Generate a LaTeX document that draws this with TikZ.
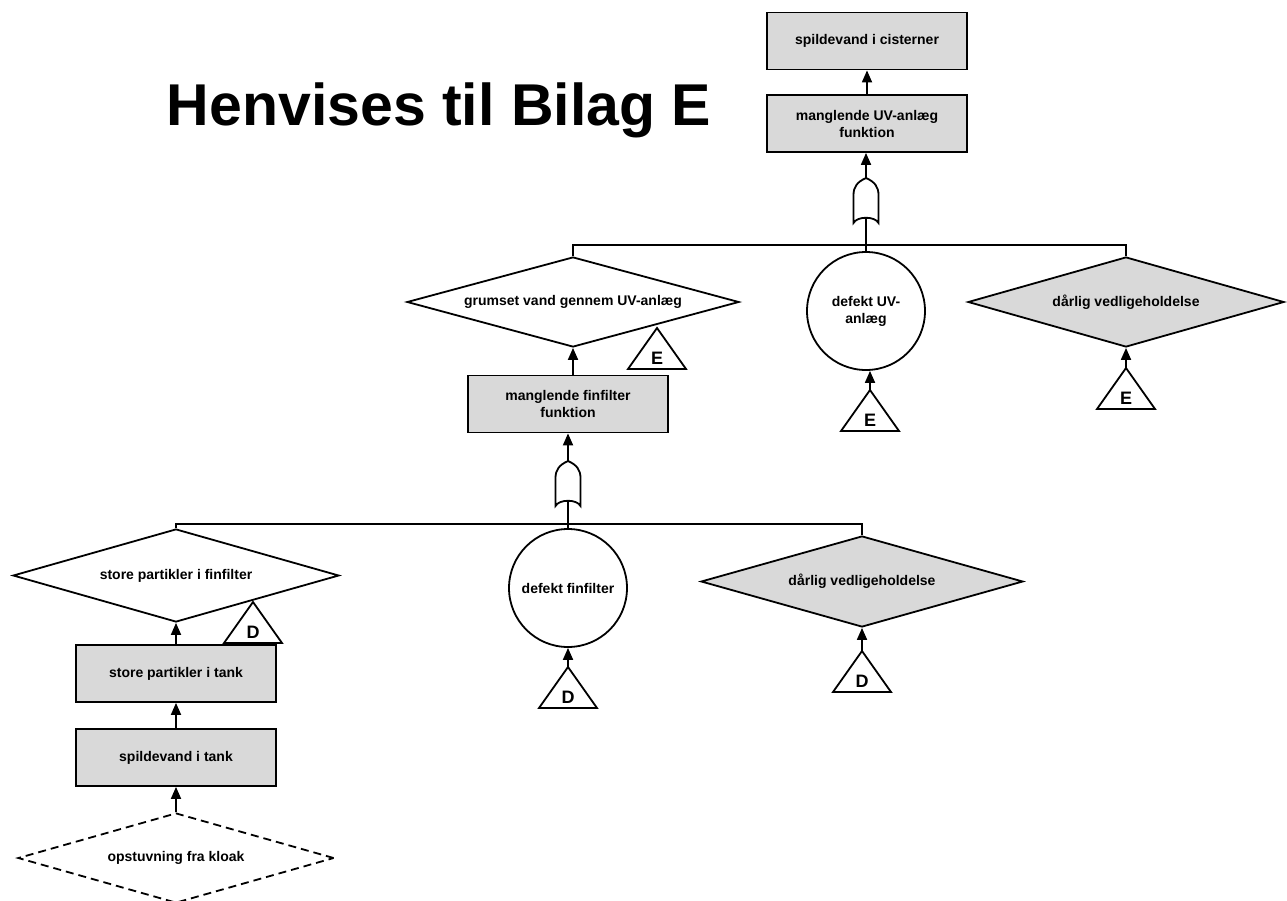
\documentclass[tikz,border=0pt]{standalone}
\usepackage{fontspec}
\setmainfont{Liberation Sans}
\usetikzlibrary{shapes.geometric,arrows.meta,calc}
\definecolor{fillgray}{RGB}{217,217,217}

\tikzset{
  ln/.style={line width=1.8pt},
  lbl/.style={font=\bfseries\fontsize{14}{17}\selectfont, align=center, text=black},
  event/.style={ln, lbl, draw, fill=fillgray, rectangle, minimum width=200pt, minimum height=57pt, inner sep=0pt},
  undev/.style={ln, lbl, draw, diamond, inner sep=0pt, aspect=3.6},
  shaded/.style={fill=fillgray},
  dashline/.style={dash pattern=on 8pt off 5pt},
  basic/.style={ln, lbl, draw, circle, minimum size=118pt, inner sep=0pt},
  arr/.style={ln, -{Triangle[length=12pt,width=10pt]}},
  conn/.style={ln},
  titletext/.style={font=\bfseries\fontsize{59}{59}\selectfont, inner sep=0pt},
  pics/transfer/.style={code={
     \coordinate (-apex) at (0,0);
     \draw[ln, line join=miter] (0,0) -- (29,41) -- (-29,41) -- cycle;
     \node[font=\bfseries\fontsize{18}{18}\selectfont, inner sep=0pt] at (0,30) {#1};
  }},
  pics/orgate/.style={code={
     \coordinate (-top) at (0,0);
     \coordinate (-in) at (0,39);
     \draw[ln] (0,0) .. controls (9,4) and (12.5,9) .. (12.5,17) -- (12.5,45)
        .. controls (9,38) and (-9,38) .. (-12.5,45) -- (-12.5,17)
        .. controls (-12.5,9) and (-9,4) .. (0,0) -- cycle;
  }},
}

\begin{document}
\begin{tikzpicture}[x=1pt,y=-1pt]
\useasboundingbox (0,0) rectangle (1287,900);
\clip (0,0) rectangle (1287,900);
\fill[white] (0,0) rectangle (1287,900);

% heading
\node[titletext, anchor=base] (title) at (439,125) {Henvises til Bilag E};

% upper branch
\node[event] (top) at (867,41) {spildevand i cisterner};
\node[event] (uv) at (867,123.5) {manglende UV-anlæg\\funktion};
\pic (g1) at (866,178) {orgate};
\coordinate (bar1) at (866,245);
\node[undev, minimum width=332pt, minimum height=90pt] (grum) at (573,302) {grumset vand gennem UV-anlæg};
\pic (tE1) at (657,328) {transfer=E};
\node[basic] (cuv) at (866,311) {defekt UV-\\anlæg};
\pic (tE2) at (870,390) {transfer=E};
\node[undev, shaded, minimum width=316pt, minimum height=90pt] (dv1) at (1126,302) {dårlig vedligeholdelse};
\pic (tE3) at (1126,368) {transfer=E};

% lower branch
\node[event] (fin) at (568,404) {manglende finfilter\\funktion};
\pic (g2) at (568,461) {orgate};
\coordinate (bar2) at (568,524);
\node[undev, minimum width=326pt, minimum height=93pt] (store) at (176,575.5) {store partikler i finfilter};
\pic (tD1) at (253,602) {transfer=D};
\node[event] (tankp) at (176,673.5) {store partikler i tank};
\node[event] (tank) at (176,757.5) {spildevand i tank};
\node[undev, dashline, minimum width=316pt, minimum height=90pt] (kloak) at (176,858) {opstuvning fra kloak};
\node[basic] (cfin) at (568,588) {defekt finfilter};
\pic (tD2) at (568,667) {transfer=D};
\node[undev, shaded, minimum width=322pt, minimum height=91pt] (dv2) at (862,581.5) {dårlig vedligeholdelse};
\pic (tD3) at (862,651) {transfer=D};

% connectors, upper branch
\draw[arr] (uv.north) -- (top.south);
\draw[arr] (g1-top) -- (g1-top |- uv.south);
\draw[conn] (grum.north) -- (grum.north |- bar1) -- (dv1.north |- bar1) -- (dv1.north);
\draw[conn] (cuv.north) -- (g1-in);
\draw[arr] (fin.north -| grum.south) -- (grum.south);
\draw[arr] (tE2-apex) -- (tE2-apex |- cuv.south);
\draw[arr] (tE3-apex) -- (dv1.south);

% connectors, lower branch
\draw[arr] (g2-top) -- (fin.south);
\draw[conn] (store.north) -- (store.north |- bar2) -- (dv2.north |- bar2) -- (dv2.north);
\draw[conn] (cfin.north) -- (g2-in);
\draw[arr] (tankp.north) -- (store.south);
\draw[arr] (tank.north) -- (tankp.south);
\draw[arr] (kloak.north) -- (tank.south);
\draw[arr] (tD2-apex) -- (cfin.south);
\draw[arr] (tD3-apex) -- (dv2.south);
\end{tikzpicture}
\end{document}
